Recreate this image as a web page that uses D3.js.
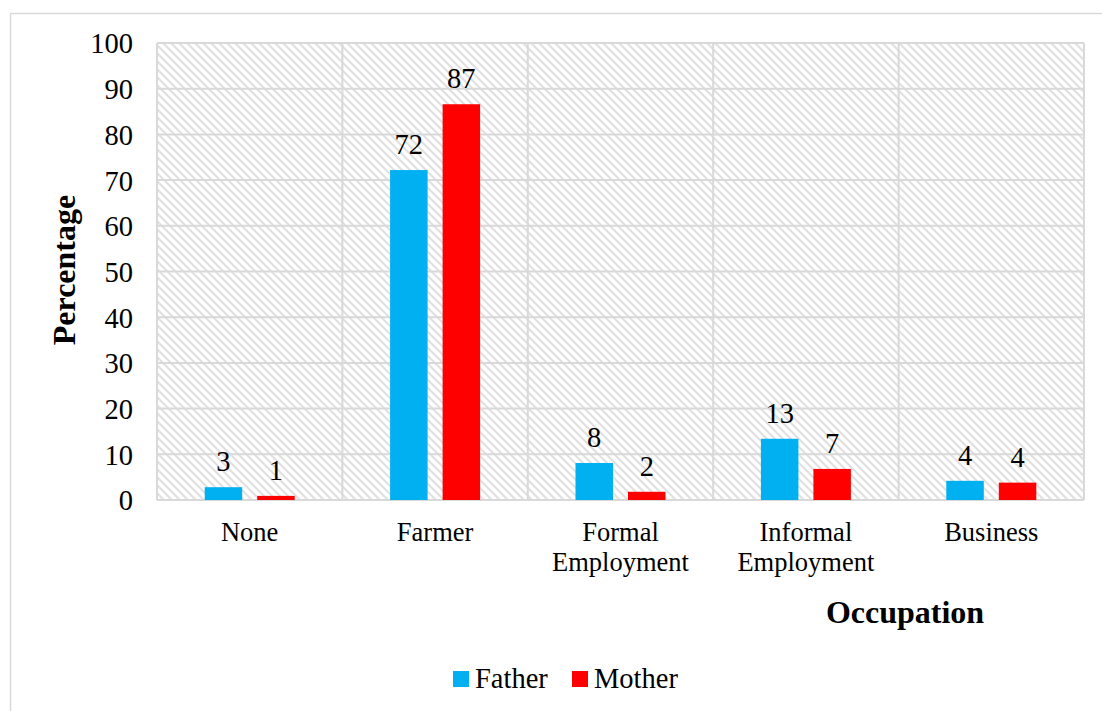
<!DOCTYPE html>
<html><head><meta charset="utf-8">
<script src="https://cdn.jsdelivr.net/npm/d3@7"></script>
<style>body{margin:0;background:#fff;} svg{display:block;}</style>
</head><body>
<script>
const categories = [["None"], ["Farmer"], ["Formal", "Employment"], ["Informal", "Employment"], ["Business"]];
const seriesNames = ["Father", "Mother"];
const fatherValues = [2.8, 72.2, 8.1, 13.4, 4.2];
const motherValues = [0.9, 86.6, 1.8, 6.8, 3.8];
const yTicks = [0, 10, 20, 30, 40, 50, 60, 70, 80, 90, 100];
const colors = ["#00B0F0", "#FF0000"];

(function() {
const W = 1102, H = 711;
const svg = d3.select("body").append("svg").attr("width", W).attr("height", H);
const font = "Liberation Serif, DejaVu Serif, serif";

const defs = svg.append("defs");
const pat = defs.append("pattern").attr("id", "hatch").attr("patternUnits", "userSpaceOnUse")
  .attr("width", 8).attr("height", 8);
pat.append("rect").attr("width", 8).attr("height", 8).attr("fill", "#fff");
pat.append("path").attr("d", "M-2,-2 L10,10 M-2,6 L2,10 M6,-2 L10,2")
  .attr("stroke", "#e0e0e0").attr("stroke-width", 2);

// outer border
svg.append("rect").attr("x", 10.5).attr("y", 13.5).attr("width", 1100).attr("height", 710)
  .attr("fill", "#fff").attr("stroke", "#d9d9d9").attr("stroke-width", 1.5);

const pLeft = 157, pRight = 1084, pTop = 43, pBottom = 500;
const keys = categories.map(c => c.join(" "));
const x0 = d3.scaleBand().domain(keys).range([pLeft, pRight]).padding(0);
const x1 = d3.scaleBand().domain(seriesNames).range([0, 90]).paddingInner(0.286).paddingOuter(0);
const y = d3.scaleLinear().domain([0, 100]).range([pBottom, pTop]);

svg.append("rect").attr("x", pLeft).attr("y", pTop).attr("width", pRight - pLeft).attr("height", pBottom - pTop)
  .attr("fill", "url(#hatch)");

// gridlines
svg.append("g").selectAll("line").data(yTicks).join("line")
  .attr("x1", pLeft).attr("x2", pRight).attr("y1", d => y(d)).attr("y2", d => y(d))
  .attr("stroke", "#d9d9d9").attr("stroke-width", 2);
const vlines = keys.map(k => x0(k)).concat([pRight]);
svg.append("g").selectAll("line").data(vlines).join("line")
  .attr("x1", d => d).attr("x2", d => d).attr("y1", pTop).attr("y2", pBottom)
  .attr("stroke", "#d9d9d9").attr("stroke-width", 2);

// y axis
const yAxis = d3.axisLeft(y).tickValues(yTicks).tickSize(0).tickPadding(0);
const ya = svg.append("g").attr("transform", "translate(133,0)").call(yAxis);
ya.attr("font-family", font).attr("font-size", 28.5);
ya.select(".domain").remove();
ya.selectAll("text").style("font-family", font).attr("font-size", 28.5).attr("fill", "#000").attr("dy", "0.35em");

// bars
const data = keys.map((k, i) => ({key: k, vals: [fatherValues[i], motherValues[i]]}));
const groups = svg.append("g").selectAll("g").data(data).join("g")
  .attr("transform", d => `translate(${x0(d.key) + x0.bandwidth() / 2 - 45},0)`);
groups.selectAll("rect").data(d => d.vals.map((v, j) => ({s: seriesNames[j], v, j}))).join("rect")
  .attr("x", d => x1(d.s)).attr("width", x1.bandwidth())
  .attr("y", d => y(d.v)).attr("height", d => pBottom - y(d.v))
  .attr("fill", d => colors[d.j]);
groups.selectAll("text").data(d => d.vals.map((v, j) => ({s: seriesNames[j], v, j}))).join("text")
  .attr("x", d => x1(d.s) + x1.bandwidth() / 2).attr("y", d => y(d.v) - 16)
  .attr("text-anchor", "middle").style("font-family", font).attr("font-size", 28.5).attr("fill", "#000")
  .text(d => d3.format(".0f")(d.v));

// x labels
const xl = svg.append("g").selectAll("text").data(categories).join("text")
  .attr("x", (d, i) => x0(keys[i]) + x0.bandwidth() / 2).attr("y", 541)
  .attr("text-anchor", "middle").style("font-family", font).attr("font-size", 26.5).attr("fill", "#000");
xl.selectAll("tspan").data(d => d).join("tspan")
  .attr("x", function() { return d3.select(this.parentNode).attr("x"); })
  .attr("dy", (d, i) => i === 0 ? 0 : 30).text(d => d);

// axis titles
svg.append("text").attr("x", 905).attr("y", 623).attr("text-anchor", "middle")
  .style("font-family", font).attr("font-weight", "bold").attr("font-size", 32).attr("fill", "#000").text("Occupation");
svg.append("text").attr("transform", "translate(75,270) rotate(-90)").attr("text-anchor", "middle")
  .style("font-family", font).attr("font-weight", "bold").attr("font-size", 32).attr("fill", "#000").text("Percentage");

// legend
const legendX = [453, 572];
const lg = svg.append("g").selectAll("g").data(seriesNames).join("g")
  .attr("transform", (d, i) => `translate(${legendX[i]},671)`);
lg.append("rect").attr("width", 16).attr("height", 16).attr("fill", (d, i) => colors[i]);
lg.append("text").attr("x", 22).attr("y", 16.5).style("font-family", font).attr("font-size", 28.5).attr("fill", "#000").text(d => d);
})();
</script>
</body></html>
